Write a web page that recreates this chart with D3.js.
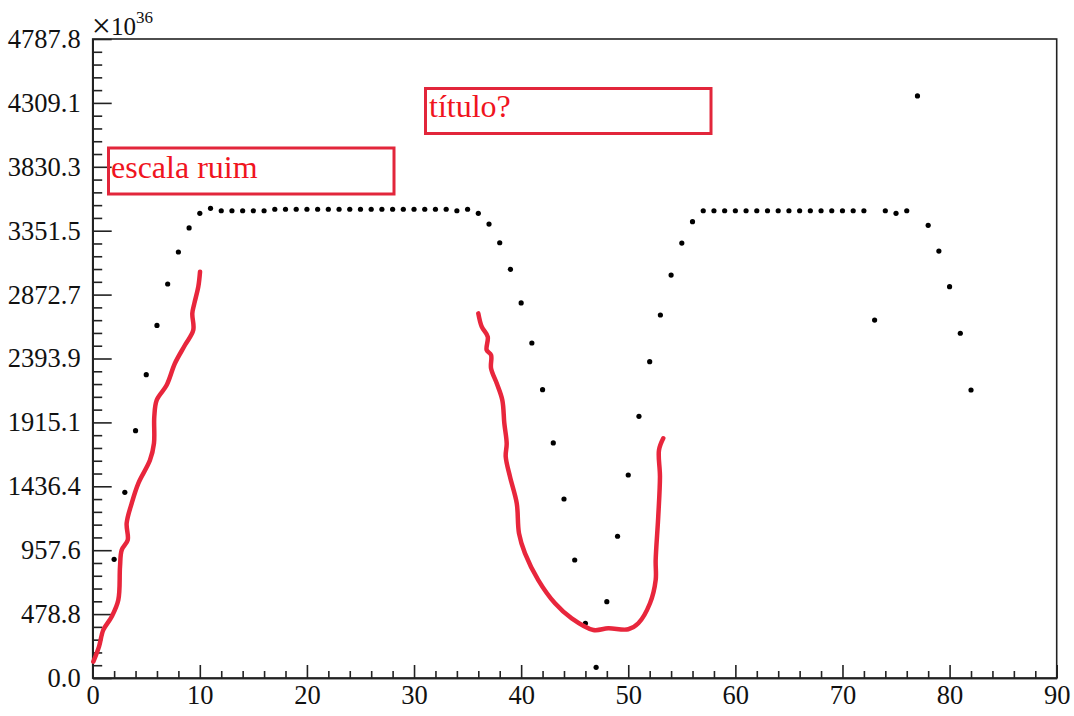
<!DOCTYPE html>
<html>
<head>
  <script src="https://d3js.org/d3.v7.min.js"></script>
  <style>
    body { margin: 0; background: #fff; }
    text { font-family: "Liberation Serif", "Times New Roman", serif; }
  </style>
</head>
<body>
<div id="chart"></div>
<script>
// Values (y in units of 10^36)
const xValues = [2, 3, 4, 5, 6, 7, 8, 9, 10, 11,
  12, 13, 14, 15, 16, 17, 18, 19, 20, 21, 22, 23, 24, 25, 26, 27, 28, 29, 30, 31, 32, 33,
  34, 35, 36, 37, 38, 39, 40, 41, 42, 43, 44, 45, 46, 47, 48, 49, 50, 51, 52, 53, 54, 55, 56,
  57, 58, 59, 60, 61, 62, 63, 64, 65, 66, 67, 68, 69, 70, 71, 72,
  73, 74, 75, 76, 77, 78, 79, 80, 81, 82];
const yValues = [889, 1391, 1853, 2273, 2642, 2952, 3192, 3372, 3482, 3519,
  3501, 3501, 3501, 3501, 3501, 3512, 3512, 3512, 3512, 3512, 3512, 3512, 3512, 3512, 3512, 3512, 3512, 3512, 3512, 3512, 3512, 3512,
  3501, 3512, 3482, 3401, 3261, 3062, 2810, 2510, 2160, 1761, 1341, 884, 410, 80, 572, 1062, 1521, 1961, 2370, 2720, 3019, 3259, 3419,
  3501, 3501, 3501, 3501, 3501, 3501, 3501, 3501, 3501, 3501, 3501, 3501, 3501, 3501, 3501, 3501,
  2682, 3501, 3482, 3501, 4361, 3392, 3199, 2932, 2583, 2158];

const yTickLabels = ["0.0", "478.8", "957.6", "1436.4", "1915.1", "2393.9",
  "2872.7", "3351.5", "3830.3", "4309.1", "4787.8"];
const xTickLabels = ["0", "10", "20", "30", "40", "50", "60", "70", "80", "90"];

// hand-drawn red annotation strokes (data coordinates)
const stroke1X = [10.02, 9.86, 9.49, 9.30, 9.39, 8.62, 7.68, 6.91, 5.98, 5.75, 5.72, 5.35, 4.26, 3.64, 3.17, 3.27, 2.71, 2.55, 2.39, 1.77, 0.99, 0.59, 0.06];
const stroke1Y = [3044, 2932, 2807, 2732, 2607, 2495, 2358, 2195, 2083, 1958, 1758, 1633, 1459, 1309, 1159, 1034, 959, 834, 584, 459, 360, 235, 122];
const stroke2X = [36.00, 36.32, 36.88, 36.78, 37.19, 37.19, 37.72, 38.24, 38.43, 38.65, 38.56, 38.96, 39.59, 39.80, 40.36, 41.60, 43.16, 44.72, 46.74, 48.14, 50.00, 50.94, 52.03, 52.56, 52.56, 52.80, 52.96, 52.87, 53.27];
const stroke2Y = [2732, 2632, 2557, 2457, 2420, 2320, 2208, 2083, 1908, 1758, 1658, 1508, 1309, 1084, 934, 734, 560, 447, 360, 372, 365, 410, 560, 734, 884, 1209, 1508, 1708, 1796];

const notes = ["escala ruim", "título?"];

const W = 1074, H = 716;
const plotLeft = 92.7, plotRight = 1056.7, plotTop = 39, plotBottom = 678;
const yMax = 4787.8;
const yStep = yMax / 10;

const svg = d3.select("#chart").append("svg")
  .attr("width", W).attr("height", H);

const x = d3.scaleLinear().domain([0, 90]).range([plotLeft, plotRight]);
const y = d3.scaleLinear().domain([0, yMax]).range([plotBottom, plotTop]);

const axisColor = "#222";

// frame
svg.append("rect")
  .attr("x", plotLeft).attr("y", plotTop)
  .attr("width", plotRight - plotLeft).attr("height", plotBottom - plotTop)
  .attr("fill", "none").attr("stroke", axisColor).attr("stroke-width", 1.6);

// y axis
const yMajor = d3.range(0, 11).map(i => i * yStep);
const yMinor = d3.range(0, 51).map(i => i * yStep / 5).filter((d, i) => i % 5 !== 0);

const yAxis = svg.append("g")
  .attr("transform", `translate(${plotLeft},0)`)
  .call(d3.axisLeft(y).tickValues(yMajor).tickSizeInner(-19).tickSizeOuter(0).tickPadding(12)
    .tickFormat((d, i) => yTickLabels[i]));
yAxis.append("g").call(d3.axisLeft(y).tickValues(yMinor).tickSizeInner(-9.5).tickSizeOuter(0).tickFormat(""));

// x axis
const xMajor = d3.range(0, 91, 10);
const xMinor = d3.range(0, 91, 2).filter(d => d % 10 !== 0);
const xAxis = svg.append("g")
  .attr("transform", `translate(0,${plotBottom})`)
  .call(d3.axisBottom(x).tickValues(xMajor).tickSizeInner(-13).tickSizeOuter(0).tickPadding(7)
    .tickFormat((d, i) => xTickLabels[i]));
xAxis.append("g").call(d3.axisBottom(x).tickValues(xMinor).tickSizeInner(-7).tickSizeOuter(0).tickFormat(""));

svg.selectAll(".domain").attr("stroke", axisColor).attr("stroke-width", 1.6);
svg.selectAll(".tick line").attr("stroke", axisColor).attr("stroke-width", 1.6);
svg.selectAll(".tick text")
  .attr("fill", "#111")
  .style("font-family", "'Liberation Serif', serif")
  .style("font-size", "26.5px");
xAxis.selectAll(".tick text").attr("dy", "0.72em");

// exponent label
const expo = svg.append("text")
  .attr("x", plotLeft - 1).attr("y", 35)
  .attr("fill", "#111")
  .style("font-size", "25px");
expo.append("tspan").style("font-size", "34px").attr("dy", 2).text("×");
expo.append("tspan").attr("dy", -2).text("10");
expo.append("tspan").attr("dy", -12).style("font-size", "17px").text("36");

// points
const points = xValues.map((d, i) => ({ x: d, y: yValues[i] }));
svg.append("g").selectAll("circle")
  .data(points)
  .enter().append("circle")
  .attr("cx", d => x(d.x))
  .attr("cy", d => y(d.y))
  .attr("r", 2.6)
  .attr("fill", "#000");

// red hand-drawn strokes
const line = d3.line().x(d => x(d[0])).y(d => y(d[1])).curve(d3.curveCatmullRom);
[[stroke1X, stroke1Y], [stroke2X, stroke2Y]].forEach(([sx, sy]) => {
  svg.append("path")
    .datum(sx.map((d, i) => [d, sy[i]]))
    .attr("d", line)
    .attr("fill", "none")
    .attr("stroke", "#e8263c")
    .attr("stroke-width", 4.5)
    .attr("stroke-linecap", "round")
    .attr("stroke-linejoin", "round");
});

// red note boxes
const boxes = [
  { x0: 108.5, y0: 148, x1: 394, y1: 194, tx: 111, ty: 178 },
  { x0: 425.5, y0: 88.5, x1: 711, y1: 133.5, tx: 429, ty: 117 }
];
boxes.forEach((b, i) => {
  svg.append("rect")
    .attr("x", b.x0).attr("y", b.y0)
    .attr("width", b.x1 - b.x0).attr("height", b.y1 - b.y0)
    .attr("fill", "none")
    .attr("stroke", "#e2263b")
    .attr("stroke-width", 3);
  svg.append("text")
    .attr("x", b.tx).attr("y", b.ty)
    .attr("fill", "#f0141e")
    .style("font-size", "32px")
    .text(notes[i]);
});
</script>
</body>
</html>
